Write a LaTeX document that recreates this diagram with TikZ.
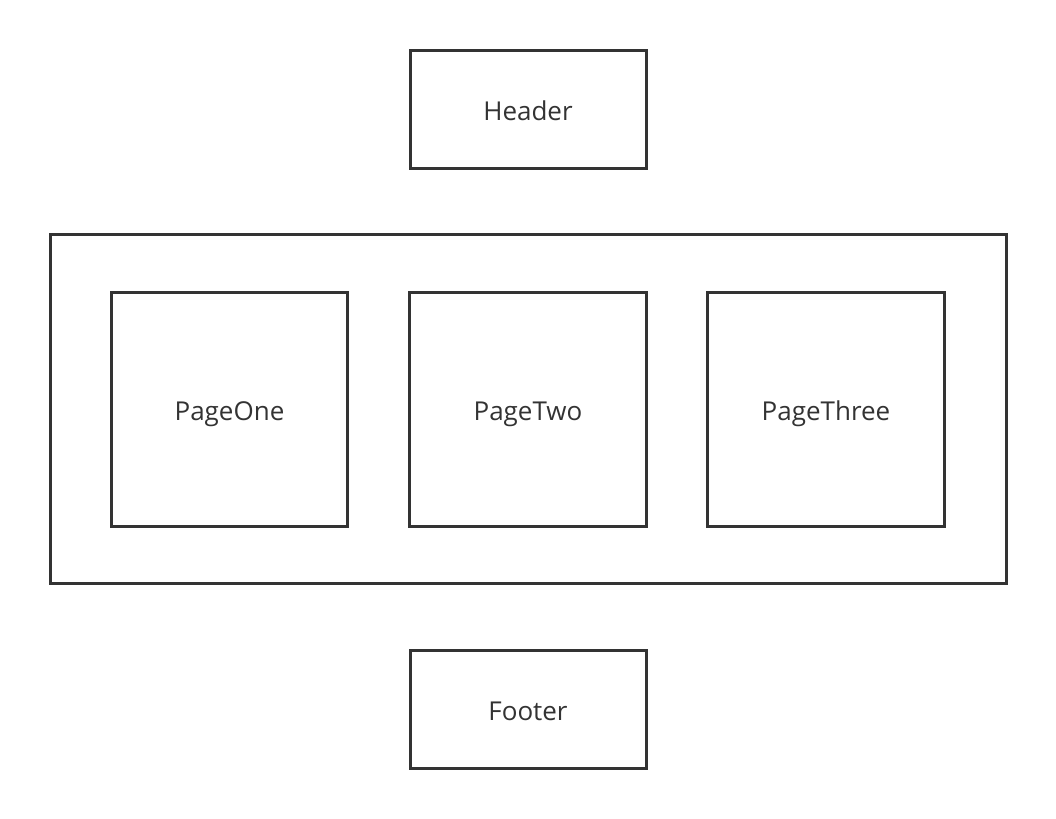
\documentclass[tikz,border=0pt]{standalone}
\usepackage{fontspec}
\setmainfont{Open Sans}
\definecolor{ink}{HTML}{333333}
\begin{document}
\begin{tikzpicture}[x=0.75pt,y=-0.75pt,
  box/.style={draw=ink,line width=2.25pt,rectangle,inner sep=0pt,text=ink,font=\fontsize{19.5}{23}\selectfont,text height=16.5pt,text depth=0pt},
  small/.style={box,minimum width=177pt,minimum height=88.5pt},
  page/.style={box,minimum width=177.5pt,minimum height=175.5pt}]
\useasboundingbox (0,0) rectangle (1056,818);
\node[box,minimum width=717pt,minimum height=261.75pt] (outer) at (528,408.5) {};
\node[small] (header) at (528,109) {Header};
\node[page] (p1) at (229.5,409) {PageOne};
\node[page] (p2) at (528,409) {PageTwo};
\node[page] (p3) at (826,409) {PageThree};
\node[small] (footer) at (528,709) {Footer};
\end{tikzpicture}
\end{document}
